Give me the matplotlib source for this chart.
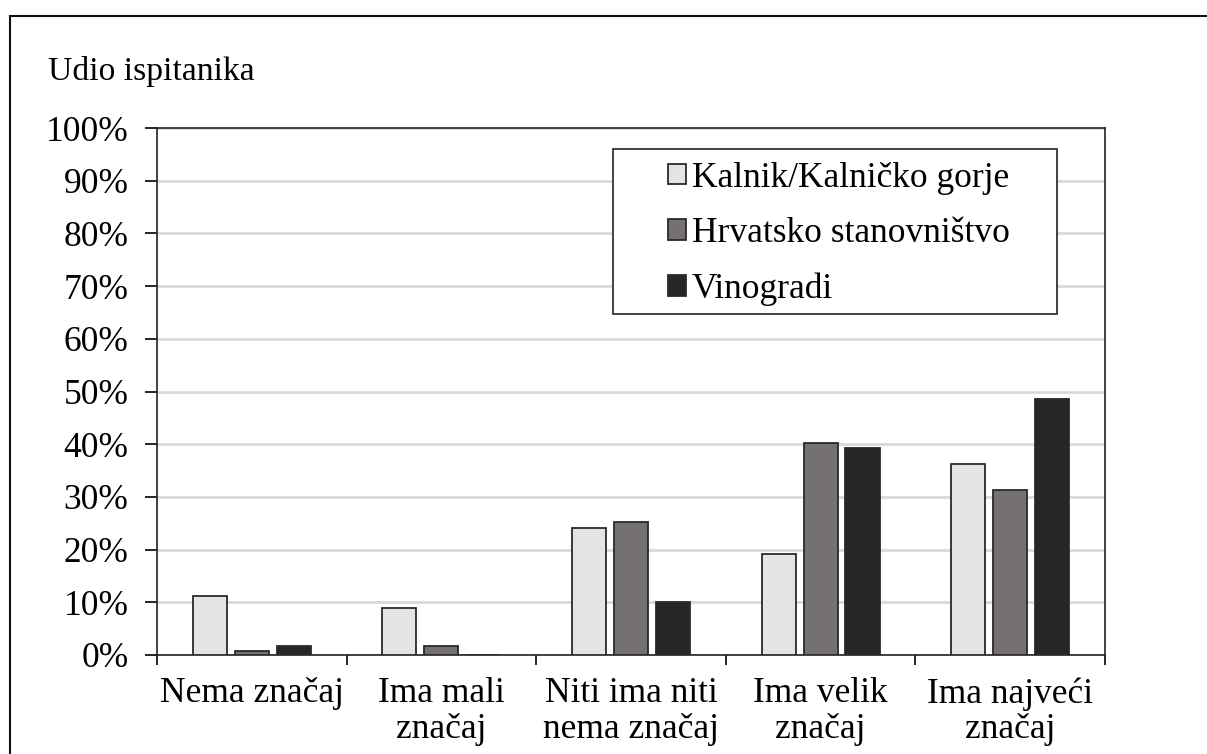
import matplotlib
matplotlib.use("Agg")
import matplotlib.pyplot as plt
import matplotlib.patches as mpatches
import numpy as np

# =========================================================
# DATA
# =========================================================

categories = [
    "Nema značaj",
    "Ima mali\nznačaj",
    "Niti ima niti\nnema značaj",
    "Ima velik\nznačaj",
    "Ima najveći\nznačaj",
]

kalnik = [11.2, 9.0, 24.1, 19.1, 36.2]
hrvatsko = [0.7, 1.8, 25.2, 40.2, 31.3]
vinogradi = [1.8, 0.0, 10.1, 39.2, 48.5]

series_names = [
    "Kalnik/Kalničko gorje",
    "Hrvatsko stanovništvo",
    "Vinogradi",
]

y_ticks = [0, 10, 20, 30, 40, 50, 60, 70, 80, 90, 100]

# =========================================================
# STYLE
# =========================================================

plt.rcParams["font.family"] = ["Liberation Serif", "DejaVu Serif"]
plt.rcParams["font.size"] = 25.5

colors = ["#E4E4E4", "#767171", "#262626"]
edge = "#2a2a2a"

# =========================================================
# CHART
# =========================================================

fig = plt.figure(figsize=(12.07, 7.54), dpi=100)
ax = fig.add_axes([0.130, 0.1313, 0.7855, 0.6989])

x = np.arange(len(categories))
width = 0.18
offset = 0.221

for i, (vals, name) in enumerate(zip([kalnik, hrvatsko, vinogradi], series_names)):
    ax.bar(
        x + (i - 1) * offset,
        vals,
        width=width,
        color=colors[i],
        edgecolor=edge,
        linewidth=1.3,
        label=name,
        zorder=3,
    )

ax.set_ylim(0, 100)
ax.set_xlim(-0.5, len(categories) - 0.5)
ax.set_yticks(y_ticks)
ax.set_yticklabels([f"{v}%" for v in y_ticks])

ax.set_xticks(np.arange(len(categories) + 1) - 0.5)
ax.set_xticklabels([])
ax.set_xticks(x, minor=True)
ax.set_xticklabels(categories, minor=True, linespacing=1.1)
ax.tick_params(axis="x", which="minor", length=0, pad=16)
ax.tick_params(axis="x", which="major", length=7, width=1.2, direction="out")
ax.tick_params(axis="y", length=8.5, width=1.2, direction="out", pad=12)

ax.grid(axis="y", color="#D9D9D9", linewidth=2, zorder=0)
ax.set_axisbelow(True)

for s in ax.spines.values():
    s.set_linewidth(1.2)
    s.set_color("#222222")

# legend: entries without frame, box drawn separately
leg = ax.legend(
    loc="upper left",
    bbox_to_anchor=(0.539, 0.936),
    borderaxespad=0,
    borderpad=0,
    frameon=False,
    handlelength=0.51,
    handleheight=0.51,
    handletextpad=0.17,
    labelspacing=0.63,
    fontsize=25.5,
)
leg.set_zorder(6)

ax.add_patch(
    mpatches.Rectangle(
        (0.481, 0.647),
        0.949 - 0.481,
        0.960 - 0.647,
        transform=ax.transAxes,
        facecolor="white",
        edgecolor="#333333",
        linewidth=1.3,
        zorder=5,
    )
)

fig.text(0.040, 0.905, "Udio ispitanika", fontsize=24.2, va="center", ha="left")

fig.patches.append(
    mpatches.Rectangle(
        (10 / 1207, -0.1),
        1.5,
        (754 - 16) / 754 + 0.1,
        transform=fig.transFigure,
        fill=False,
        edgecolor="#111111",
        linewidth=1.5,
    )
)

fig.savefig("out.png", dpi=100)
